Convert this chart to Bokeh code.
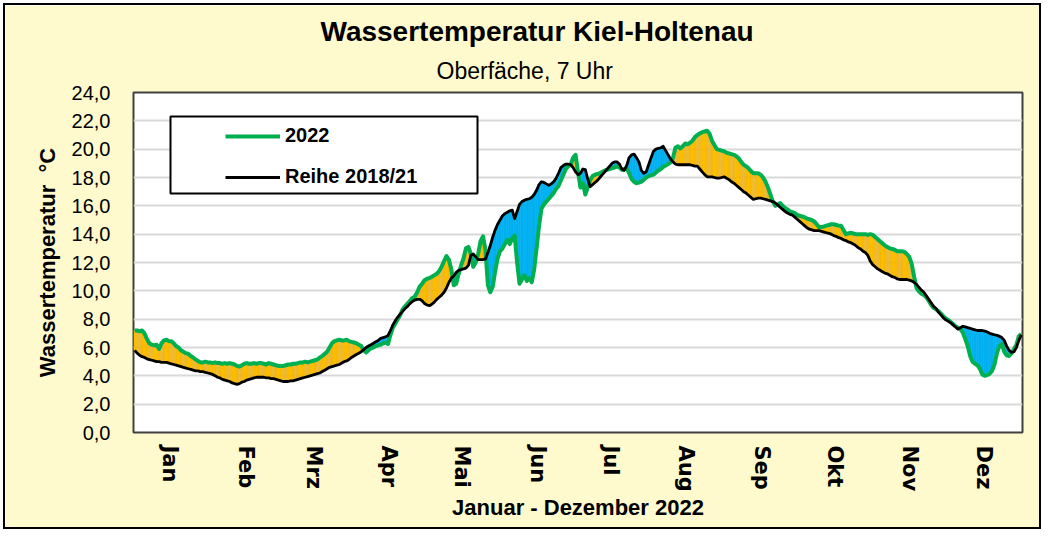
import numpy as np
from bokeh.plotting import figure
from bokeh.models import (ColumnDataSource, FixedTicker, Legend, LegendItem,
                          BoxAnnotation, Title, Range1d)
from bokeh.embed import file_html
from bokeh.resources import INLINE

# ---------------- data ----------------
months = ["Jan", "Feb", "Mrz", "Apr", "Mai", "Jun", "Jul", "Aug", "Sep", "Okt", "Nov", "Dez"]
month_days = [31, 28, 31, 30, 31, 30, 31, 31, 30, 31, 30, 31]

# Wassertemperatur 2022 (daily, °C)
t2022_jan = [7.2, 7.2, 7.15, 7.2, 7.0, 6.6, 6.3, 6.2, 6.15, 6.2, 5.9, 6.3, 6.5, 6.55, 6.45, 6.45,
             6.3, 6.1, 6.0, 5.8, 5.7, 5.6, 5.55, 5.4, 5.3, 5.15, 5.05, 4.95, 4.95, 5.0, 4.95]
t2022_feb = [4.95, 4.9, 4.95, 4.9, 4.9, 4.85, 4.9, 4.85, 4.9, 4.85, 4.8, 4.7, 4.65, 4.75, 4.85,
             4.9, 4.85, 4.85, 4.9, 4.85, 4.9, 4.9, 4.85, 4.8, 4.9, 4.85, 4.8, 4.75]
t2022_mar = [4.7, 4.7, 4.7, 4.75, 4.8, 4.8, 4.85, 4.85, 4.9, 4.95, 4.95, 5.0, 4.95, 5.0, 5.05,
             5.1, 5.15, 5.3, 5.4, 5.55, 5.7, 6.0, 6.3, 6.45, 6.5, 6.55, 6.5, 6.5, 6.55, 6.45, 6.4]
t2022_apr = [6.35, 6.3, 6.2, 6.1, 5.8, 5.65, 5.8, 5.95, 6.0, 6.1, 6.15, 6.2, 6.3, 6.35, 6.25,
             6.9, 7.4, 7.7, 8.0, 8.3, 8.7, 8.9, 9.1, 9.3, 9.5, 9.6, 9.9, 10.3, 10.5, 10.75]
t2022_may = [10.85, 10.9, 11.0, 11.1, 11.2, 11.4, 11.7, 12.1, 12.45, 12.2, 11.5, 10.4, 10.5, 11.2,
             11.8, 12.3, 13.0, 13.1, 12.6, 11.7, 12.0, 12.6, 13.5, 13.85, 12.9, 10.4, 9.9, 10.3,
             11.4, 12.3, 12.8]
t2022_jun = [13.0, 13.3, 13.6, 13.3, 13.7, 13.9, 12.0, 10.5, 10.8, 11.1, 10.7, 10.9, 10.6, 11.5,
             13.0, 14.6, 15.8, 16.1, 16.3, 16.5, 16.7, 16.9, 17.2, 17.4, 17.8, 18.2, 18.6, 18.8,
             18.9, 19.4]
t2022_jul = [19.6, 18.4, 17.3, 17.6, 16.8, 17.3, 17.8, 18.1, 18.2, 18.25, 18.3, 18.4, 18.5, 18.55,
             18.6, 18.65, 18.7, 18.8, 18.7, 18.55, 18.6, 18.65, 18.3, 17.9, 17.7, 17.6, 17.65,
             17.7, 17.85, 18.0, 18.1]
t2022_aug = [18.15, 18.2, 18.35, 18.5, 18.6, 18.75, 18.85, 18.95, 19.05, 19.4, 20.1, 20.2, 20.05,
             20.2, 20.4, 20.35, 20.45, 20.6, 20.85, 21.0, 21.1, 21.2, 21.25, 21.3, 21.1, 20.6,
             20.3, 20.0, 19.95, 19.9, 19.85]
t2022_sep = [19.75, 19.7, 19.65, 19.6, 19.5, 19.35, 19.1, 18.9, 18.8, 18.65, 18.45, 18.3, 18.3,
             18.3, 18.2, 18.0, 17.7, 17.3, 16.8, 16.3, 16.0, 16.1, 16.2, 16.0, 15.85, 15.75,
             15.6, 15.55, 15.5, 15.35]
t2022_oct = [15.3, 15.25, 15.2, 15.1, 15.05, 15.0, 14.9, 14.7, 14.5, 14.5, 14.55, 14.6, 14.65,
             14.7, 14.7, 14.65, 14.6, 14.6, 14.3, 14.0, 14.05, 14.1, 14.05, 14.0, 14.0, 14.0,
             14.0, 14.0, 13.95, 14.0, 13.95]
t2022_nov = [13.8, 13.65, 13.5, 13.35, 13.2, 13.1, 13.0, 12.95, 12.9, 12.8, 12.8, 12.8, 12.75,
             12.6, 12.4, 11.9, 11.0, 10.2, 9.95, 9.8, 9.7, 9.55, 9.3, 9.0, 8.8, 8.7, 8.55, 8.4,
             8.2, 8.05]
t2022_dec = [7.95, 7.8, 7.65, 7.5, 7.4, 7.3, 7.05, 6.6, 6.1, 5.4, 5.0, 4.85, 4.75, 4.5, 4.1, 4.0,
             4.05, 4.15, 4.35, 4.8, 5.6, 6.1, 6.25, 5.7, 5.45, 5.4, 5.6, 5.9, 6.2, 6.8, 6.95]

# Reihe 2018/21 (daily mean, °C)
ref_jan = [5.8, 5.6, 5.45, 5.35, 5.3, 5.2, 5.15, 5.1, 5.05, 5.0, 5.0, 4.95, 4.95, 4.95, 4.9, 4.85,
           4.8, 4.75, 4.7, 4.65, 4.6, 4.55, 4.5, 4.45, 4.4, 4.35, 4.35, 4.3, 4.3, 4.25, 4.2]
ref_feb = [4.15, 4.1, 4.0, 3.9, 3.85, 3.75, 3.7, 3.65, 3.6, 3.5, 3.45, 3.4, 3.45, 3.55, 3.6, 3.7,
           3.75, 3.8, 3.85, 3.9, 3.9, 3.9, 3.9, 3.85, 3.85, 3.8, 3.8, 3.75]
ref_mar = [3.7, 3.65, 3.6, 3.6, 3.6, 3.65, 3.65, 3.7, 3.75, 3.8, 3.85, 3.9, 3.95, 4.0, 4.05, 4.1,
           4.15, 4.2, 4.3, 4.4, 4.5, 4.6, 4.65, 4.7, 4.75, 4.8, 4.9, 5.0, 5.05, 5.15, 5.3]
ref_apr = [5.4, 5.5, 5.6, 5.7, 5.85, 6.0, 6.1, 6.2, 6.3, 6.4, 6.5, 6.65, 6.7, 6.75, 6.85, 7.2,
           7.6, 7.9, 8.15, 8.35, 8.55, 8.75, 8.9, 9.1, 9.25, 9.35, 9.4, 9.4, 9.3, 9.1]
ref_may = [9.0, 8.95, 9.05, 9.2, 9.4, 9.55, 9.7, 9.9, 10.2, 10.6, 10.9, 11.05, 11.3, 11.45, 11.5,
           11.55, 11.6, 11.8, 12.5, 12.6, 12.4, 12.2, 12.2, 12.2, 12.25, 12.7, 13.2, 13.8, 14.3,
           14.7, 15.0]
ref_jun = [15.3, 15.45, 15.55, 15.65, 15.7, 15.1, 15.6, 16.1, 16.3, 16.4, 16.45, 16.5, 16.6, 16.8,
           17.1, 17.5, 17.7, 17.65, 17.55, 17.45, 17.55, 17.7, 17.95, 18.3, 18.7, 18.85, 18.95,
           18.95, 18.9, 18.7]
ref_jul = [18.4, 18.2, 18.3, 18.6, 18.55, 17.9, 17.35, 17.5, 17.65, 17.8, 18.0, 18.2, 18.4, 18.6,
           18.8, 19.0, 19.1, 19.1, 18.95, 18.6, 18.5, 18.85, 19.4, 19.6, 19.65, 19.4, 19.1, 18.5,
           18.3, 18.4, 18.9]
ref_aug = [19.4, 19.85, 20.0, 20.05, 20.1, 20.2, 19.9, 19.6, 19.3, 19.1, 18.95, 18.9, 18.9, 18.9,
           18.9, 18.9, 18.9, 18.85, 18.8, 18.8, 18.6, 18.4, 18.2, 18.05, 18.05, 18.05, 18.0,
           17.95, 17.95, 18.0, 18.05]
ref_sep = [17.95, 17.85, 17.7, 17.6, 17.45, 17.3, 17.15, 17.0, 16.9, 16.75, 16.6, 16.45, 16.5,
           16.55, 16.55, 16.5, 16.45, 16.4, 16.35, 16.3, 16.2, 16.05, 15.9, 15.75, 15.6, 15.5,
           15.4, 15.35, 15.2, 15.05]
ref_oct = [14.9, 14.75, 14.6, 14.45, 14.35, 14.3, 14.25, 14.25, 14.25, 14.2, 14.15, 14.1, 14.05,
           14.0, 13.9, 13.85, 13.75, 13.7, 13.6, 13.55, 13.45, 13.4, 13.3, 13.2, 13.05, 12.95,
           12.8, 12.7, 12.5, 12.1, 11.85]
ref_nov = [11.7, 11.55, 11.45, 11.35, 11.25, 11.2, 11.1, 11.0, 10.95, 10.85, 10.8, 10.8, 10.8,
           10.8, 10.75, 10.7, 10.6, 10.45, 10.25, 10.05, 9.9, 9.65, 9.4, 9.15, 8.9, 8.75, 8.5,
           8.3, 8.1, 7.95]
ref_dec = [7.85, 7.75, 7.6, 7.45, 7.3, 7.4, 7.5, 7.45, 7.4, 7.35, 7.3, 7.25, 7.2, 7.2, 7.2, 7.15,
           7.1, 7.0, 6.95, 6.9, 6.85, 6.8, 6.7, 6.5, 6.1, 5.8, 5.65, 5.7, 6.0, 6.5, 6.9]

y_ticks = list(range(0, 25, 2))

# ---------------- assemble ----------------
g = np.array(t2022_jan + t2022_feb + t2022_mar + t2022_apr + t2022_may + t2022_jun +
             t2022_jul + t2022_aug + t2022_sep + t2022_oct + t2022_nov + t2022_dec)
r = np.array(ref_jan + ref_feb + ref_mar + ref_apr + ref_may + ref_jun +
             ref_jul + ref_aug + ref_sep + ref_oct + ref_nov + ref_dec)
n = min(len(g), len(r))
g, r = g[:n], r[:n]
days = np.arange(1, n + 1)

starts = np.cumsum([0] + month_days[:-1])
month_ticks = [float(s + 15.5) for s in starts]

up = g >= r
src_up = ColumnDataSource(dict(x=days[up], top=g[up], bottom=r[up]))
src_dn = ColumnDataSource(dict(x=days[~up], top=r[~up], bottom=g[~up]))

FONT = "Liberation Sans"

p = figure(width=1038, height=526, x_range=Range1d(0.5, 365.5), y_range=Range1d(0, 24),
           output_backend="svg", toolbar_location=None,
           min_border_left=128, min_border_right=21, min_border_top=87, min_border_bottom=99)
p.styles = {"border": "2px solid #000000", "margin": "3px 0px 0px 3px"}
p.background_fill_color = "white"
p.border_fill_color = "#FFFACD"
p.outline_line_color = "#404040"
p.outline_line_width = 2

p.xgrid.visible = False
p.ygrid.grid_line_color = "#D9D9D9"
p.ygrid.grid_line_width = 2

# bars (up/down)
p.vbar(x="x", top="top", bottom="bottom", width=0.8, source=src_up,
       fill_color="#FFC000", line_color="#E0A000", line_width=0.5)
p.vbar(x="x", top="top", bottom="bottom", width=1.0, source=src_dn,
       fill_color="#00B0F0", line_color="#00B0F0", line_width=0.6)

lg = p.line(days, g, line_color="#00B050", line_width=4, line_join="round")
lr = p.line(days, r, line_color="black", line_width=2.8, line_join="round")

# axes
p.yaxis.ticker = FixedTicker(ticks=y_ticks)
p.yaxis.major_label_overrides = {v: f"{v},0" for v in y_ticks}
p.yaxis.major_tick_line_color = None
p.yaxis.minor_tick_line_color = None
p.yaxis.axis_line_color = None
p.yaxis.major_label_standoff = 17
p.yaxis.major_label_text_font = FONT
p.yaxis.major_label_text_font_size = "20px"
p.yaxis.major_label_text_color = "black"
p.yaxis.axis_label = "Wassertemperatur\u00a0\u00a0°C"
p.yaxis.axis_label_text_font = FONT
p.yaxis.axis_label_text_font_style = "bold"
p.yaxis.axis_label_text_font_size = "22px"
p.yaxis.axis_label_text_color = "black"
p.yaxis.axis_label_standoff = 9

p.xaxis.ticker = FixedTicker(ticks=month_ticks)
p.xaxis.major_label_overrides = {t: m for t, m in zip(month_ticks, months)}
p.xaxis.major_label_orientation = "vertical"
p.xaxis.major_tick_line_color = None
p.xaxis.minor_tick_line_color = None
p.xaxis.axis_line_color = None
p.xaxis.major_label_standoff = 7
p.xaxis.major_label_text_font = "DejaVu Sans"
p.xaxis.major_label_text_font_style = "bold"
p.xaxis.major_label_text_font_size = "21px"
p.xaxis.major_label_text_color = "black"
p.xaxis.axis_label = "Januar - Dezember 2022"
p.xaxis.axis_label_text_font = FONT
p.xaxis.axis_label_text_font_style = "bold"
p.xaxis.axis_label_text_font_size = "22px"
p.xaxis.axis_label_text_color = "black"
p.xaxis.axis_label_standoff = 0

# legend box + legend
box = BoxAnnotation(left=37, right=344, top=316, bottom=239,
                    left_units="screen", right_units="screen",
                    top_units="screen", bottom_units="screen",
                    fill_color="white", fill_alpha=1.0,
                    line_color="black", line_alpha=1.0, line_width=2)
p.add_layout(box)

legend = Legend(items=[LegendItem(label="2022", renderers=[lg]),
                       LegendItem(label="Reihe 2018/21", renderers=[lr])],
                location=(92, 244), padding=5, margin=0, spacing=18,
                glyph_width=55, glyph_height=20, label_height=20, label_standoff=5,
                label_text_font=FONT, label_text_font_style="bold",
                label_text_font_size="20px", label_text_color="black",
                border_line_color=None, background_fill_alpha=0.0)
p.add_layout(legend)

# titles (subtitle first -> closest to the frame)
p.add_layout(Title(text="Oberfäche, 7 Uhr", align="left", offset=303, standoff=18,
                   text_font=FONT, text_font_style="normal", text_font_size="23px",
                   text_color="black"), "above")
p.add_layout(Title(text="Wassertemperatur Kiel-Holtenau", align="left", offset=187, standoff=0,
                   text_font=FONT, text_font_style="bold", text_font_size="28px",
                   text_color="black"), "above")

open("out.html", "w").write(file_html(p, INLINE))
